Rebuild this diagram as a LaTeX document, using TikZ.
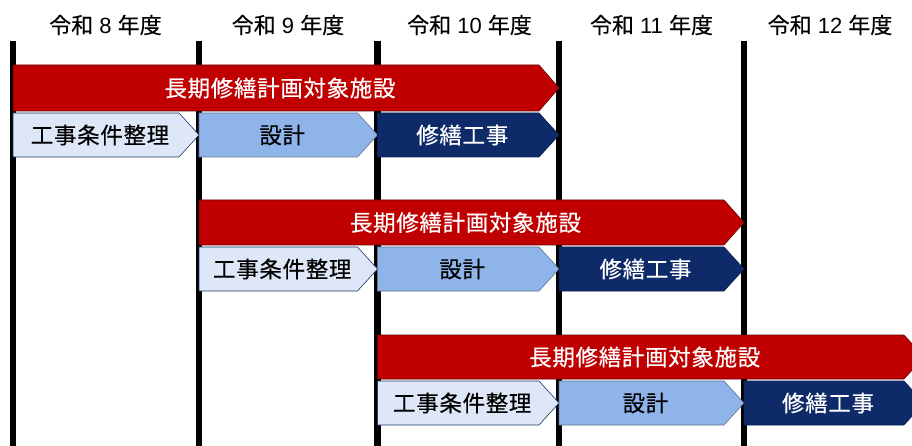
\documentclass[tikz,border=0pt]{standalone}
\usepackage{fontspec}
\setmainfont{Noto Sans CJK JP}
\newfontfamily\cjkhead[FakeBold=0.3]{Noto Sans CJK JP}
\newfontfamily\lathead{Liberation Sans}
\newfontfamily\boxfont[LetterSpace=3,FakeBold=0.4]{Noto Sans CJK JP}
\definecolor{bandred}{HTML}{C00000}
\definecolor{bandedge}{HTML}{6A0000}
\definecolor{lightfill}{HTML}{DDE7F8}
\definecolor{midfill}{HTML}{8EB4EA}
\definecolor{navyfill}{HTML}{0E2A68}
\definecolor{boxedge}{HTML}{1F3864}
\tikzset{
  yearline/.style={line width=6.5pt, black},
  yearlabel/.style={font=\cjkhead\fontsize{22}{22}\selectfont, inner sep=0pt, text=black},
  boxtext/.style={font=\boxfont\fontsize{22.5}{24}\selectfont, inner sep=0pt},
  redband/.style={fill=bandred, draw=bandedge, line width=0.6pt},
  lightbox/.style={fill=lightfill, draw=boxedge, line width=0.6pt},
  midbox/.style={fill=midfill, draw=boxedge!70, line width=0.6pt},
  navybox/.style={fill=navyfill, draw=navyfill!80!black, line width=0.6pt},
}
\newcommand{\yr}[1]{令和{\lathead\fontsize{22}{22}\selectfont\ #1\ }年度}
% #1 x0, #2 x1 (tip), #3 top, #4 bottom, #5 style, #6 text colour, #7 text, #8 name
\newcommand{\arrowbox}[8]{%
  \path[#5] (#1,#3) -- ({#2-20},#3) -- (#2,{(#3+#4)/2}) -- ({#2-20},#4) -- (#1,#4) -- cycle;
  \node[boxtext, text=#6] (#8) at ({(#1+#2)/2-6},{(#3+#4)/2}) {#7};
}
\begin{document}
\begin{tikzpicture}[x=1pt,y=-1pt]
\useasboundingbox (0,0) rectangle (912,446);
% year columns
\foreach \xx/\nm in {13/a,199/b,377.5/c,559/d,744/e}{
  \coordinate (top\nm) at (\xx,41);
  \coordinate (bot\nm) at (\xx,446);
  \draw[yearline] (top\nm) -- (bot\nm);
}
\node[yearlabel] (y8)  at (105.5,25) {\yr{8}};
\node[yearlabel] (y9)  at (288,25) {\yr{9}};
\node[yearlabel] (y10) at (469.5,25) {\yr{10}};
\node[yearlabel] (y11) at (651.5,25) {\yr{11}};
\node[yearlabel] (y12) at (830,25) {\yr{12}};
% row 1
\arrowbox{13}{559}{65}{111}{redband}{white}{長期修繕計画対象施設}{r1}
\arrowbox{13}{199}{113}{157}{lightbox}{black}{工事条件整理}{r1a}
\arrowbox{199}{377.5}{113}{157}{midbox}{black}{設計}{r1b}
\arrowbox{377.5}{559}{113}{157}{navybox}{white}{修繕工事}{r1c}
% row 2
\arrowbox{199}{744}{200}{245}{redband}{white}{長期修繕計画対象施設}{r2}
\arrowbox{199}{377.5}{247}{291}{lightbox}{black}{工事条件整理}{r2a}
\arrowbox{377.5}{559}{247}{291}{midbox}{black}{設計}{r2b}
\arrowbox{559}{744}{247}{291}{navybox}{white}{修繕工事}{r2c}
% row 3
\arrowbox{377.5}{924}{335}{379}{redband}{white}{長期修繕計画対象施設}{r3}
\arrowbox{377.5}{559}{381}{425}{lightbox}{black}{工事条件整理}{r3a}
\arrowbox{559}{744}{381}{425}{midbox}{black}{設計}{r3b}
\arrowbox{744}{924}{381}{425}{navybox}{white}{修繕工事}{r3c}
\end{tikzpicture}
\end{document}
